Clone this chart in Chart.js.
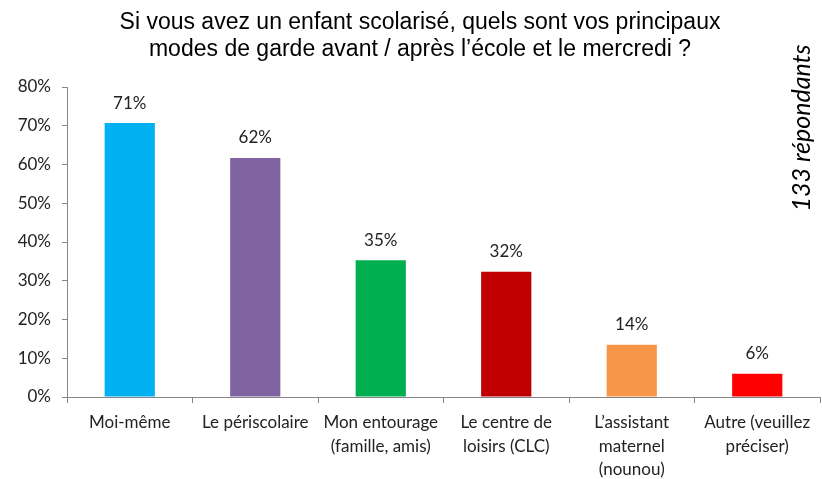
<!DOCTYPE html>
<html>
<head>
<meta charset="utf-8">
<script src="https://cdn.jsdelivr.net/npm/chart.js@4"></script>
<style>
  html, body { margin: 0; padding: 0; background: #fff; }
  #wrap { width: 822px; height: 479px; }
</style>
</head>
<body>
<div id="wrap"><canvas id="gardeChart" width="822" height="479"></canvas></div>
<script>
// Réponses (en %) sur 133 répondants
const categories = [
    'Moi-même',
    'Le périscolaire',
    ['Mon entourage', '(famille, amis)'],
    ['Le centre de', 'loisirs (CLC)'],
    ['L\u2019assistant', 'maternel', '(nounou)'],
    ['Autre (veuillez', 'préciser)']
];
const percentages = [70.7, 61.7, 35.3, 32.3, 13.5, 6.0];
const barColors = ['#00B0F0', '#8064A2', '#00B050', '#C00000', '#F79646', '#FF0000'];
const yTicks = [0, 10, 20, 30, 40, 50, 60, 70, 80];
const titleLines = [
    'Si vous avez un enfant scolarisé, quels sont vos principaux',
    'modes de garde avant / après l\u2019école et le mercredi ?'
];
const respondentsNote = '133 répondants';

const bodyFont = 'Lato, "Open Sans", sans-serif';

// titre, étiquettes de valeur et note verticale
const annotations = {
    id: 'annotations',
    afterDatasetsDraw(chart) {
        const ctx = chart.ctx;
        ctx.save();

        ctx.fillStyle = '#000';
        ctx.font = '23px "Liberation Sans", Arial, sans-serif';
        ctx.textAlign = 'center';
        ctx.textBaseline = 'middle';
        titleLines.forEach((line, i) => ctx.fillText(line, 420, 23 + i * 27));

        ctx.font = '17px ' + bodyFont;
        ctx.fillStyle = '#222';
        const meta = chart.getDatasetMeta(0);
        meta.data.forEach((bar, i) => {
            ctx.fillText(Math.round(percentages[i]) + '%', bar.x, bar.y - 20);
        });

        ctx.translate(802, 128);
        ctx.rotate(-Math.PI / 2);
        ctx.font = 'italic 25px ' + bodyFont;
        ctx.fillStyle = '#000';
        ctx.fillText(respondentsNote, 0, 0);
        ctx.restore();
    }
};

new Chart(document.getElementById('gardeChart'), {
    type: 'bar',
    data: {
        labels: categories,
        datasets: [{
            data: percentages,
            backgroundColor: barColors,
            categoryPercentage: 1,
            barPercentage: 0.4
        }]
    },
    options: {
        responsive: false,
        animation: false,
        layout: { padding: { top: 87, right: 2, left: 0, bottom: 0 } },
        plugins: {
            legend: { display: false },
            tooltip: { enabled: false }
        },
        scales: {
            x: {
                afterFit: scale => { scale.height = 82; },
                grid: {
                    offset: true,
                    drawOnChartArea: false,
                    tickLength: 6,
                    color: '#868686'
                },
                border: { color: '#868686', width: 1 },
                ticks: {
                    autoSkip: false,
                    maxRotation: 0,
                    padding: 8,
                    color: '#222',
                    font: { family: bodyFont, size: 17, lineHeight: 1.38 }
                }
            },
            y: {
                min: 0,
                max: 80,
                afterFit: scale => { scale.width = 67; },
                afterBuildTicks: scale => { scale.ticks = yTicks.map(v => ({ value: v })); },
                grid: {
                    drawOnChartArea: false,
                    tickLength: 5,
                    color: '#868686'
                },
                border: { color: '#868686', width: 1 },
                ticks: {
                    padding: 11,
                    color: '#222',
                    font: { family: bodyFont, size: 17 },
                    callback: v => v + '%'
                }
            }
        }
    },
    plugins: [annotations]
});
</script>
</body>
</html>
